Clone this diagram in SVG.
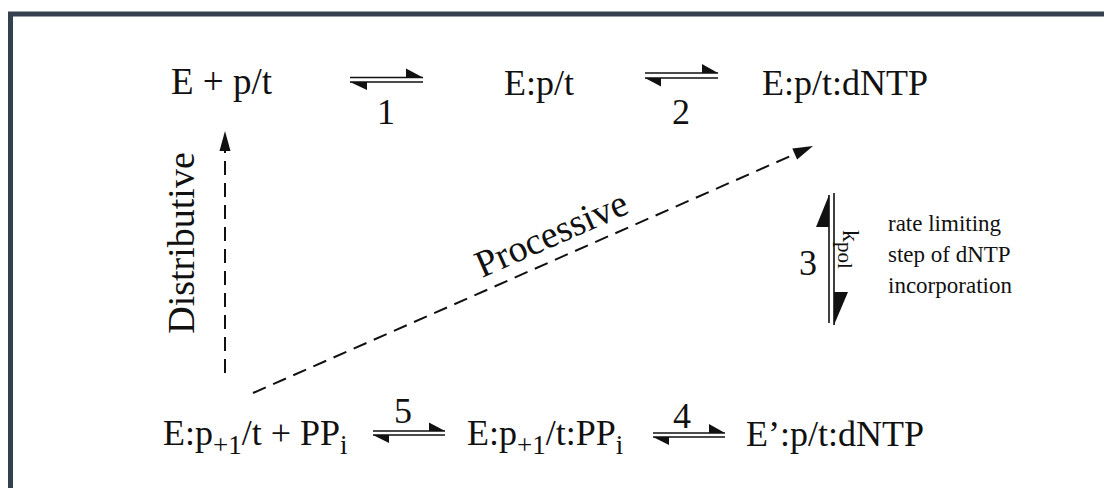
<svg xmlns="http://www.w3.org/2000/svg" width="1104" height="488" viewBox="0 0 1104 488">
<style>
.t{font-family:"Liberation Serif","Times New Roman",serif;font-size:36px;fill:#111}
.s{font-size:27px}
.big{font-size:38px}
.n{font-family:"Liberation Serif","Times New Roman",serif;font-size:23px;fill:#111}
.ln{stroke:#111;stroke-width:1.6;fill:none}
.dash{stroke:#111;stroke-width:2;fill:none;stroke-dasharray:14 8}
.hd{fill:#111;stroke:none}
</style>
<rect x="0" y="0" width="1104" height="488" fill="#fff"/>
<rect x="10.5" y="14" width="1200" height="600" fill="none" stroke="#35404f" stroke-width="5"/>
<g id="n1"><text class="t" x="171" y="94" style="font-size:37px">E + p/t</text></g>
<g id="n2"><text class="t" x="504" y="95">E:p/t</text></g>
<g id="n3"><text class="t" x="762" y="95">E:p/t:dNTP</text></g>
<g id="n4"><text class="t" x="746" y="446">E’:p/t:dNTP</text></g>
<g id="n5"><text class="t" x="467" y="445">E:p<tspan class="s" dy="9">+1</tspan><tspan dy="-9">/t:PP</tspan><tspan class="s" dy="9">i</tspan></text></g>
<g id="n6"><text class="t" x="163" y="445">E:p<tspan class="s" dy="9">+1</tspan><tspan dy="-9">/t + PP</tspan><tspan class="s" dy="9">i</tspan></text></g>
<g id="connectors">
  <!-- 1 -->
  <path class="ln" d="M350 77.5H423M350 82H423"/>
  <polygon class="hd" points="423,77.5 406,68.5 406,77.5"/>
  <polygon class="hd" points="350,82 367,90 367,82"/>
  <text class="t" x="386" y="124" text-anchor="middle">1</text>
  <!-- 2 -->
  <path class="ln" d="M645 73H718M645 78H718"/>
  <polygon class="hd" points="718,73 702,64 702,73"/>
  <polygon class="hd" points="645,78 661,86.5 661,78"/>
  <text class="t" x="681" y="124" text-anchor="middle">2</text>
  <!-- 3 -->
  <path class="ln" d="M829 195V323M834 193V325"/>
  <polygon class="hd" points="829,195 829,227 816,227"/>
  <polygon class="hd" points="834,325 834,292 848,292"/>
  <text class="t" x="808" y="275" text-anchor="middle">3</text>
  <text class="t" transform="translate(843,230) rotate(90)"><tspan style="font-size:24px">k</tspan><tspan style="font-size:21px" dy="5">pol</tspan></text>
  <!-- 4 -->
  <path class="ln" d="M653 433H725M653 437H725"/>
  <polygon class="hd" points="725,433 709,424 709,433"/>
  <polygon class="hd" points="653,437 669,445 669,437"/>
  <text class="t" x="682" y="428" text-anchor="middle">4</text>
  <!-- 5 -->
  <path class="ln" d="M373 431H445M373 435H445"/>
  <polygon class="hd" points="445,431 429,422.5 429,431"/>
  <polygon class="hd" points="373,435 389,443 389,435"/>
  <text class="t" x="403" y="423" text-anchor="middle">5</text>
  <!-- distributive -->
  <path class="dash" d="M225 373V151"/>
  <polygon class="hd" points="225,131 219.5,151 230.5,151"/>
  <text class="t big" transform="translate(194,243) rotate(-90)" text-anchor="middle">Distributive</text>
  <!-- processive -->
  <path class="dash" d="M253 393L795 154"/>
  <polygon class="hd" points="813,146 797.1,159.6 792.3,148.6"/>
  <text class="t big" transform="translate(482,278) rotate(-23.8)">Processive</text>
</g>
<g id="note">
  <text class="n" x="888" y="231">rate limiting</text>
  <text class="n" x="888" y="262">step of dNTP</text>
  <text class="n" x="888" y="293">incorporation</text>
</g>
</svg>
